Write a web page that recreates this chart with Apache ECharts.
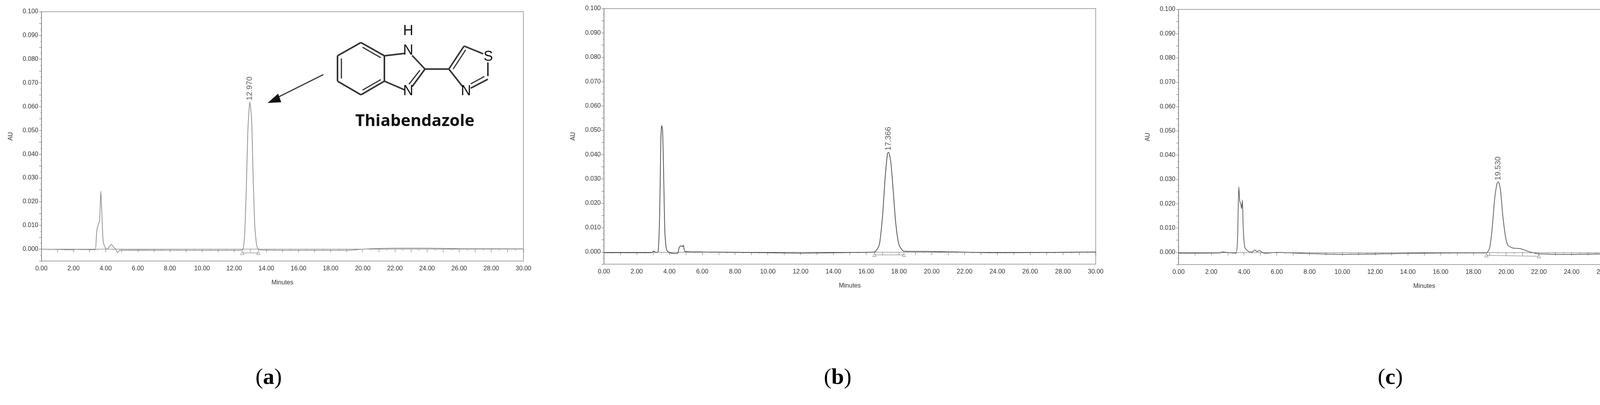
<!DOCTYPE html>
<html><head><meta charset="utf-8">
<script src="https://cdn.jsdelivr.net/npm/echarts@6/dist/echarts.min.js"></script>
<style>html,body{margin:0;padding:0;background:#fff}#c{width:4317px;height:1038px}</style>
</head><body><div id="c"></div>
<script>
const traceA = [[0,0],[1,-0.0001],[2,-0.0003],[2.1,0],[2.3,-0.0001],[3.2,-0.0002],[3.35,-0.0003],[3.45,0.008],[3.55,0.0105],[3.62,0.012],[3.7,0.0245],[3.78,0.012],[3.85,0.003],[4.0,0.0003],[4.1,0],[4.2,0.0008],[4.35,0.002],[4.5,0.0008],[4.6,0.0002],[4.75,-0.0015],[4.85,-0.0005],[6,-0.0004],[10,-0.0005],[12.4,-0.0005],[12.55,0.0],[12.65,0.006],[12.75,0.025],[12.85,0.05],[12.97,0.062],[13.08,0.055],[13.18,0.03],[13.28,0.01],[13.4,0.0015],[13.55,-0.0003],[16,-0.0005],[19,-0.0005],[20,0],[22,0.0004],[24,0.0004],[26,0.0002],[30,0.0001]];
const traceB = [[0,-0.0003],[2.9,-0.0003],[3.05,0.0004],[3.15,-0.0002],[3.3,-0.0001],[3.4,0.015],[3.47,0.045],[3.52,0.052],[3.58,0.05],[3.65,0.03],[3.72,0.008],[3.82,0.001],[4.0,-0.0003],[4.3,-0.0006],[4.5,-0.0005],[4.6,0.002],[4.7,0.0025],[4.78,0.0022],[4.84,0.0028],[4.95,0.0002],[6,0],[10,-0.0003],[12,-0.0005],[15,-0.0002],[16.5,0],[16.8,0.003],[17.0,0.015],[17.15,0.03],[17.3,0.0405],[17.37,0.041],[17.5,0.037],[17.65,0.025],[17.8,0.012],[18.0,0.003],[18.3,0.0003],[20,0.0002],[24,-0.0003],[27,-0.0002],[30,0]];
const traceC = [[0,-0.0003],[2.5,-0.0002],[2.7,0.0002],[2.9,0],[3.5,-0.0003],[3.6,0.005],[3.68,0.027],[3.74,0.021],[3.8,0.02],[3.85,0.018],[3.9,0.0215],[3.95,0.01],[4.05,0.002],[4.3,0.0003],[4.5,0.0002],[4.65,0.001],[4.8,0.0003],[4.95,0.0008],[5.1,0],[5.3,-0.0003],[6,0],[8,-0.0005],[10,-0.0008],[14,-0.0004],[17,-0.0002],[18.8,-0.0002],[19.0,0.002],[19.15,0.01],[19.3,0.022],[19.45,0.0285],[19.53,0.029],[19.65,0.026],[19.8,0.015],[19.95,0.007],[20.1,0.003],[20.4,0.0018],[20.9,0.0015],[21.3,0.0005],[21.7,-0.0002],[22,-0.0006],[24,-0.0008],[27,-0.0005],[30,-0.0003]];
const peaks = [[12.97,0.062,'12.970'],[17.366,0.041,'17.366'],[19.53,0.029,'19.530']];
const markers = [[[12.5,-0.0016],[13.5,-0.0016]],[[16.5,-0.0012],[18.3,-0.0012]],[[18.8,-0.0012],[22.0,-0.0016]]];
const captions = ['a','b','c'];
const traces = [traceA, traceB, traceC];
const lineColors = ['#8a8a8a','#444','#555'];

const grids = [
  {left:106, top:30, width:1234, height:639},
  {left:1546, top:22, width:1259, height:655},
  {left:3017, top:24, width:1258, height:654}
];
const capX = [694, 2149, 3567];
const lab = {fontFamily:'Liberation Sans Narrow, Liberation Sans, sans-serif', fontSize:16, color:'#333'};
const option = {backgroundColor:'#fff', animation:false, grid:[], xAxis:[], yAxis:[], series:[], graphic:[]};
grids.forEach((g,i)=>{
  option.grid.push(Object.assign({show:true, borderColor:'#888', borderWidth:1.5, backgroundColor:'transparent'}, g));
  option.xAxis.push({type:'value', gridIndex:i, min:0, max:30, interval:1, name:'Minutes', nameLocation:'middle', nameGap:48, nameTextStyle:lab,
    axisLine:{lineStyle:{color:'#666'}}, axisTick:{show:true, length:8, lineStyle:{color:'#666'}},
    minorTick:{show:true, splitNumber:2, length:4, lineStyle:{color:'#888'}},
    axisLabel:Object.assign({margin:12, formatter:v=>(v%2===0? v.toFixed(2):'')}, lab), splitLine:{show:false}});
  option.yAxis.push({type:'value', gridIndex:i, min:-0.005, max:0.1, interval:0.005, name:'AU', nameLocation:'middle', nameGap:70, nameTextStyle:lab,
    axisLine:{show:true, lineStyle:{color:'#666'}}, axisTick:{show:true, length:6, lineStyle:{color:'#666'}},
    minorTick:{show:true, splitNumber:2, length:3, lineStyle:{color:'#888'}},
    axisLabel:Object.assign({formatter:v=>{const r=Math.round(v*1000); return (r>=0 && r%10===0)? v.toFixed(3):'';}}, lab), splitLine:{show:false}});
  option.series.push({type:'line', xAxisIndex:i, yAxisIndex:i, data:traces[i], showSymbol:false, smooth:0.2, lineStyle:{color:lineColors[i], width:1.8}});
  option.series.push({type:'scatter', xAxisIndex:i, yAxisIndex:i, data:markers[i], symbol:'triangle', symbolSize:9,
    itemStyle:{color:'#fff', borderColor:'#555', borderWidth:1}});
  option.series.push({type:'line', xAxisIndex:i, yAxisIndex:i, data:markers[i], showSymbol:false, lineStyle:{color:'#666', width:1}});
  option.series.push({type:'scatter', xAxisIndex:i, yAxisIndex:i, data:[[peaks[i][0],peaks[i][1]]], symbolSize:0,
    label:{show:true, formatter:peaks[i][2], rotate:90, position:'top', align:'left', verticalAlign:'middle', distance:4,
      fontFamily:'Liberation Sans, sans-serif', fontSize:20, color:'#333'}});
  option.graphic.push({type:'text', left:capX[i]-40, top:940, style:{rich:{p:{fontFamily:'Liberation Serif, serif', fontSize:58, fill:'#000'}, b:{fontFamily:'Liberation Serif, serif', fontSize:58, fontWeight:'bold', fill:'#000'}}, text:'{p|(}{b|'+captions[i]+'}{p|)}'}});
});
// molecule annotation
const L=(x1,y1,x2,y2,w)=>({type:'line', shape:{x1,y1,x2,y2}, style:{stroke:'#333', lineWidth:w||4}});
const hex=[[924,109],[984,143],[984,208],[924,243],[864,208],[864,143]];
for(let k=0;k<6;k++){const a=hex[k],b=hex[(k+1)%6]; option.graphic.push(L(a[0],a[1],b[0],b[1]));}
option.graphic.push(L(874,150,874,201,3), L(928,121,975,148,3), L(928,231,975,204,3));
option.graphic.push(L(984,143,1035,137), L(1055,142,1088,177), L(1088,177,1055,222), L(1075,180,1047,216,3), L(984,208,1035,230));
option.graphic.push(L(1088,177,1149,177), L(1149,177,1188,118), L(1160,177,1192,128,3), L(1188,118,1237,138), L(1249,160,1249,195), L(1249,203,1205,226), L(1240,196,1205,215,3), L(1149,177,1186,224));
const atom=(t,x,y)=>({type:'text', x:x, y:y, style:{text:t, fontFamily:'Liberation Sans, sans-serif', fontSize:36, fill:'#111', align:'center', verticalAlign:'middle'}});
option.graphic.push(atom('N',1045,130), atom('H',1045,80), atom('N',1045,234), atom('S',1250,146), atom('N',1193,234));
option.graphic.push({type:'text', x:1062, y:311, style:{text:'Thiabendazole', fontFamily:'Open Sans, sans-serif', fontWeight:'bold', fontSize:42, fill:'#111', align:'center', verticalAlign:'middle'}});
option.graphic.push(L(828,191,700,255,3), {type:'polygon', shape:{points:[[685,264],[712,240],[720,262]]}, style:{fill:'#111'}});
echarts.init(document.getElementById('c')).setOption(option);
</script></body></html>
